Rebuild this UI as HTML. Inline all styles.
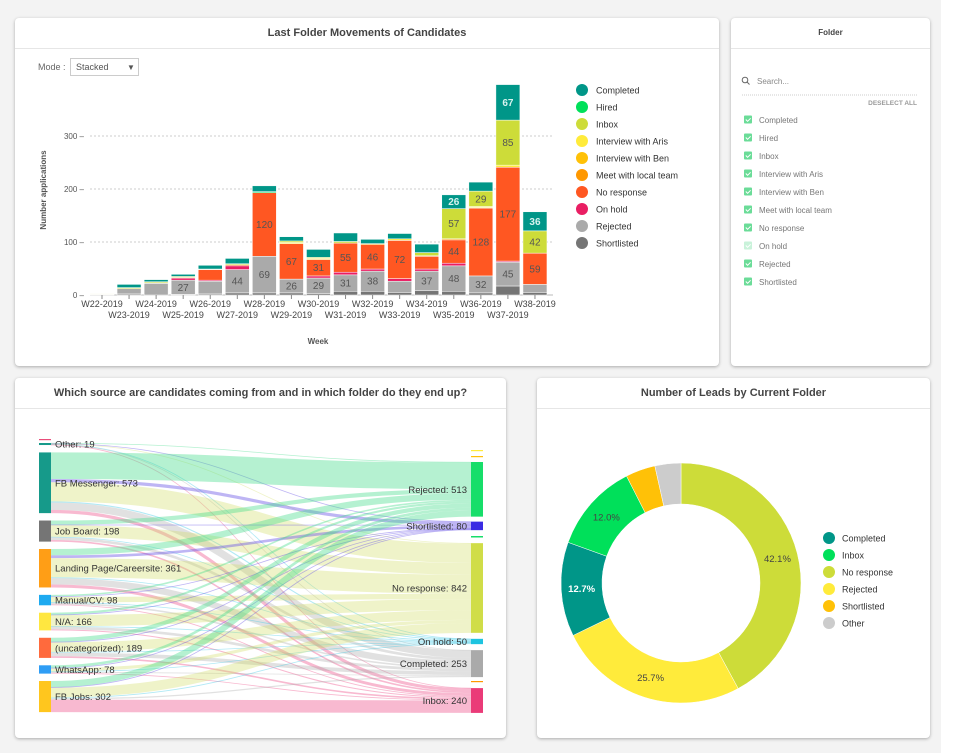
<!DOCTYPE html>
<html><head><meta charset="utf-8">
<style>
body{margin:0;width:954px;height:753px;background:#f3f3f3;font-family:"Liberation Sans",sans-serif;position:relative;overflow:hidden}
.panel{position:absolute;background:#fff;border-radius:4px;box-shadow:0 1px 3px rgba(0,0,0,0.3)}
.ptitle{position:absolute;left:0;right:0;top:0;height:30px;line-height:30px;text-align:center;font-weight:bold;font-size:11px;color:#444;border-bottom:1px solid #e6e6e6}
#rightwhite{position:absolute;left:941px;top:0;width:13px;height:753px;background:#fff}
svg{position:absolute;left:0;top:0}
</style></head><body>
<div id="rightwhite"></div>
<div class="panel" style="left:15px;top:18px;width:704px;height:348px"><div class="ptitle">Last Folder Movements of Candidates</div></div>
<div class="panel" style="left:731px;top:18px;width:199px;height:348px"><div class="ptitle" style="font-size:8px">Folder</div></div>
<div class="panel" style="left:15px;top:378px;width:491px;height:360px"><div class="ptitle">Which source are candidates coming from and in which folder do they end up?</div></div>
<div class="panel" style="left:537px;top:378px;width:393px;height:360px"><div class="ptitle">Number of Leads by Current Folder</div></div>

<svg id="s" width="954" height="753" xmlns="http://www.w3.org/2000/svg" font-family="Liberation Sans, sans-serif">
<g>
<text x="38" y="70" font-size="9" fill="#666">Mode :</text>
<rect x="70.5" y="58.5" width="68" height="17" fill="#fff" stroke="#ccc"/>
<text x="76" y="70" font-size="9" fill="#555">Stacked</text>
<text x="127" y="70" font-size="8" fill="#555">▼</text>
</g>
<text x="0" y="0" font-size="8" font-weight="bold" fill="#555" text-anchor="middle" transform="translate(46,190) rotate(-90)">Number applications</text>
<text x="318" y="344" font-size="8" font-weight="bold" fill="#555" text-anchor="middle">Week</text>
<g id="bars"></g>
<g id="legend"></g>
<g id="folder"></g>
<g id="sankey"></g>
<g id="donut"></g>
</svg>
<script>
const NS="http://www.w3.org/2000/svg";
function mk(tag,attrs,parent,txt){const e=document.createElementNS(NS,tag);for(const k in attrs)e.setAttribute(k,attrs[k]);if(txt!==undefined)e.textContent=txt;parent.appendChild(e);return e;}

// ---------- Bar chart data ----------
const weeks=["W22-2019","W23-2019","W24-2019","W25-2019","W26-2019","W27-2019","W28-2019","W29-2019","W30-2019","W31-2019","W32-2019","W33-2019","W34-2019","W35-2019","W36-2019","W37-2019","W38-2019"];
const seriesNames=["Shortlisted","Rejected","On hold","No response","Meet with local team","Interview with Ben","Interview with Aris","Inbox","Hired","Completed"];
const seriesColors=["#757575","#aaaaaa","#e91e63","#ff5722","#ff9800","#ffc107","#ffeb3b","#cddc39","#00e05a","#009688"];
const shortlisted=[0,2,0,1,2,4,4,4,3,7,7,5,8,7,4,17,5];
const rejected=[1,10,22,27,24,44,69,26,29,31,38,21,37,48,32,45,15];
const onHold=[0,0,0,4,2,7,0,0,4,5,4,5,4,5,0,2,0];
const noResponse=[0,0,0,1,20,2,120,67,31,55,46,72,24,44,128,177,59];
const meetLocal=[0,0,0,0,0,0,0,0,0,0,2,0,1,2,1,0,0];
const interviewBen=[0,0,0,0,0,0,0,0,0,0,0,0,0,0,0,0,0];
const interviewAris=[0,0,1,0,0,0,0,2,2,0,0,3,0,0,2,4,0];
const inbox=[1,2,2,2,1,2,0,3,2,3,0,0,6,57,29,85,42];
const hired=[0,0,0,0,0,0,2,0,0,0,0,0,0,0,0,0,0];
const completed=[0,6,4,4,7,10,11,8,15,16,8,10,16,26,17,67,36];
const yTicks=[0,100,200,300];
const allSeries=[shortlisted,rejected,onHold,noResponse,meetLocal,interviewBen,interviewAris,inbox,hired,completed];

const X0=102,XSTEP=27.06,BW=24,Y0=295,YPX=0.53;
const xScale=i=>X0+i*XSTEP;
const yScale=v=>Y0-v*YPX;
const bars=document.getElementById('bars');
yTicks.forEach(t=>{
  if(t>0){const g=mk('line',{x1:90,x2:553,y1:yScale(t),y2:yScale(t),stroke:'#ccc','stroke-dasharray':'2,2'},bars);
  }
  const tl=mk('text',{x:84,y:yScale(t)+3,'font-size':8,fill:'#555','text-anchor':'end'},bars,t+' –');
  
});
mk('line',{x1:90,x2:553,y1:Y0,y2:Y0,stroke:'#bbb'},bars);
weeks.forEach((w,i)=>{
  let acc=0;
  allSeries.forEach((s,k)=>{
    const v=s[i]; if(!v)return;
    const r=mk('rect',{x:xScale(i)-BW/2,y:yScale(acc+v),width:BW,height:v*YPX,fill:seriesColors[k],stroke:'#fff','stroke-width':0.5},bars);
    
    
    if(v>=25){
      const isC=k===9;
      const t=mk('text',{x:xScale(i),y:yScale(acc+v/2)+3.5,'font-size':10,'text-anchor':'middle',fill:isC?'#d8f3ef':'#555','font-weight':isC?'bold':'normal'},bars,v);
      
    }
    acc+=v;
  });
  const tk=mk('line',{x1:xScale(i),x2:xScale(i),y1:Y0,y2:Y0+4,stroke:'#888'},bars);
  const lab=mk('text',{x:xScale(i),y:Y0+(i%2===0?12:23),'font-size':9,'text-anchor':'middle',fill:'#444'},bars,w);
  
});
// legend
const legendOrder=["Completed","Hired","Inbox","Interview with Aris","Interview with Ben","Meet with local team","No response","On hold","Rejected","Shortlisted"];
const lg=document.getElementById('legend');
legendOrder.forEach((n,i)=>{
  const k=seriesNames.indexOf(n);
  const g=mk('g',{},lg);
  
  
  mk('circle',{cx:582,cy:90+i*17,r:6,fill:seriesColors[k]},g);
  mk('text',{x:596,y:93.5+i*17,'font-size':9,fill:'#333'},g,n);
});

// ---------- Folder filter ----------
const folderItems=["Completed","Hired","Inbox","Interview with Aris","Interview with Ben","Meet with local team","No response","On hold","Rejected","Shortlisted"];
const folderChecked=[1,1,1,1,1,1,1,0,1,1];
const fd=document.getElementById('folder');
const srch=mk('g',{},fd);

mk('circle',{cx:745,cy:80,r:2.8,fill:'none',stroke:'#666','stroke-width':1},srch);
mk('line',{x1:747,y1:82,x2:749.5,y2:84.5,stroke:'#666','stroke-width':1},srch);
mk('text',{x:757,y:84,'font-size':8,fill:'#888'},srch,'Search...');
mk('line',{x1:742,x2:918,y1:95,y2:95,stroke:'#ccc','stroke-dasharray':'1,1'},fd);
const da=mk('text',{x:917,y:105,'font-size':6.5,'font-weight':'bold',fill:'#999','text-anchor':'end'},fd,'DESELECT ALL');

folderItems.forEach((n,i)=>{
  const y=120+i*18;
  const g=mk('g',{},fd);
  
  
  mk('rect',{x:744,y:y-4.5,width:8,height:8,rx:1,fill:folderChecked[i]?'#6bdc98':'#c9f2da'},g);
  mk('path',{d:`M745.8 ${y-0.5} l1.8 1.8 l3 -3`,stroke:'#fff','stroke-width':1,fill:'none'},g);
  mk('text',{x:759,y:y+3,'font-size':8,fill:'#777'},g,n);
});

// ---------- Sankey ----------
const sources=["Other","FB Messenger","Job Board","Landing Page/Careersite","Manual/CV","N/A","(uncategorized)","WhatsApp","FB Jobs"];
const sourceTotals=[19,573,198,361,98,166,189,78,302];
const sourceColors=["#169a8a","#169a8a","#757575","#ff9e16","#1eaaf0","#ffe740","#ff6a3d","#2e9df5","#ffc61e"];
const targets=["Rejected","Shortlisted","No response","On hold","Completed","Inbox"];
const targetTotals=[513,80,842,50,253,240];
const targetColors=["#17de6a","#3a2be3","#d0dd48","#1ec4e0","#aaaaaa","#ea3b78"];
const linkColors=["rgba(70,220,140,0.4)","rgba(110,90,230,0.45)","rgba(210,220,100,0.35)","rgba(60,200,230,0.4)","rgba(170,170,170,0.35)","rgba(240,100,150,0.45)"];
const flowOther=[5,2,5,2,3,2];
const flowFBMessenger=[250,30,180,10,70,30];
const flowJobBoard=[40,3,110,5,25,15];
const flowLanding=[60,25,180,8,60,28];
const flowManual=[15,5,50,5,15,8];
const flowNA=[20,3,105,3,25,10];
const flowUncat=[40,3,90,6,35,15];
const flowWhatsApp=[25,4,30,3,8,8];
const flowFBJobs=[58,5,92,8,12,117];
const flows=[flowOther,flowFBMessenger,flowJobBoard,flowLanding,flowManual,flowNA,flowUncat,flowWhatsApp,flowFBJobs];

const sk=document.getElementById('sankey');
const K=0.1065, LX=39, RX=471, NW=12;
const srcSum=flows.map(f=>f.reduce((a,b)=>a+b,0));
const tgtSum=targets.map((t,j)=>flows.reduce((a,f)=>a+f[j],0));
// left layout
const sY=[];let y=443;
srcSum.forEach((v,i)=>{sY.push(y);y+=v*K+7.4;});
const tY=[];const tGaps=[12,5,13,6,6,11];y=450;
tgtSum.forEach((v,j)=>{y+=tGaps[j];tY.push(y);y+=v*K;});
const sOff=sY.slice(),tOff=tY.slice();
const links=mk('g',{},sk);
flows.forEach((f,i)=>{
  f.forEach((v,j)=>{
    if(!v)return;
    const h=v*K,y1=sOff[i]+h/2,y2=tOff[j]+h/2;sOff[i]+=h;tOff[j]+=h;
    const x1=LX+NW,x2=RX,mx=(x1+x2)/2;
    const p=mk('path',{d:`M${x1} ${y1} C${mx} ${y1} ${mx} ${y2} ${x2} ${y2}`,stroke:linkColors[j],'stroke-width':Math.max(h,0.8),fill:'none'},links);
    
    
  });
});
// extra tiny nodes
mk('rect',{x:LX,y:439,width:NW,height:1.2,fill:'#e94d7a'},sk);
mk('rect',{x:LX,y:710,width:NW,height:2,fill:'#cddc39'},sk);
mk('rect',{x:RX,y:450,width:NW,height:1.2,fill:'#ffeb3b'},sk);
mk('rect',{x:RX,y:456,width:NW,height:1.2,fill:'#ffc107'},sk);
mk('rect',{x:RX,y:536,width:NW,height:1.5,fill:'#17de6a'},sk);
mk('rect',{x:RX,y:681,width:NW,height:1.2,fill:'#ff9800'},sk);
sources.forEach((n,i)=>{
  const r=mk('rect',{x:LX,y:sY[i],width:NW,height:Math.max(srcSum[i]*K,2),fill:sourceColors[i]},sk);
  
  const t=mk('text',{x:LX+16,y:sY[i]+srcSum[i]*K/2+3.5,'font-size':9.5,fill:'#333'},sk,n+': '+sourceTotals[i]);
  
});
targets.forEach((n,j)=>{
  const r=mk('rect',{x:RX,y:tY[j],width:NW,height:tgtSum[j]*K,fill:targetColors[j]},sk);
  
  const t=mk('text',{x:RX-4,y:tY[j]+tgtSum[j]*K/2+3.5,'font-size':9.5,fill:'#333','text-anchor':'end'},sk,n+': '+targetTotals[j]);
  
});

// ---------- Donut ----------
const donutLabels=["No response","Rejected","Completed","Inbox","Shortlisted","Other"];
const donutValues=[42.1,25.7,12.7,12.0,4.0,3.5];
const donutColors=["#cddc39","#ffeb3b","#009688","#00e05a","#ffc107","#cccccc"];
const dn=document.getElementById('donut');
const CX=681,CY=583,RO=120,RI=79;
const tot=donutValues.reduce((a,b)=>a+b,0);
let ang=0;
donutValues.forEach((v,i)=>{
  const a0=ang,a1=ang+v/tot*2*Math.PI;ang=a1;
  const P=(r,a)=>[CX+r*Math.sin(a),CY-r*Math.cos(a)];
  const [x0,y0]=P(RO,a0),[x1,y1]=P(RO,a1),[x2,y2]=P(RI,a1),[x3,y3]=P(RI,a0);
  const lf=(a1-a0)>Math.PI?1:0;
  const p=mk('path',{d:`M${x0} ${y0} A${RO} ${RO} 0 ${lf} 1 ${x1} ${y1} L${x2} ${y2} A${RI} ${RI} 0 ${lf} 0 ${x3} ${y3}Z`,fill:donutColors[i],stroke:'#fff','stroke-width':0.5},dn);
  
  
  if(v>=10){
    const [lx,ly]=P((RO+RI)/2,(a0+a1)/2);
    const isC=i===2;
    const t=mk('text',{x:lx,y:ly+3.5,'font-size':9.5,'text-anchor':'middle',fill:isC?'#fff':'#444','font-weight':isC?'bold':'normal'},dn,v.toFixed(1)+'%');
    
  }
});
const dLegend=["Completed","Inbox","No response","Rejected","Shortlisted","Other"];
dLegend.forEach((n,i)=>{
  const k=donutLabels.indexOf(n);
  const g=mk('g',{},dn);
  
  
  mk('circle',{cx:829,cy:538+i*17,r:6,fill:donutColors[k]},g);
  mk('text',{x:842,y:541.5+i*17,'font-size':9,fill:'#333'},g,n);
});
</script>
</body></html>
